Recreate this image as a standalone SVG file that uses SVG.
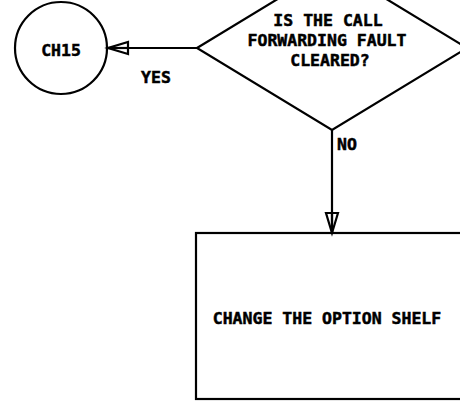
<svg xmlns="http://www.w3.org/2000/svg" width="460" height="401" viewBox="0 0 460 401">
<style>
.shape{fill:none;stroke:#000;stroke-width:2.2}
.conn{fill:none;stroke:#000;stroke-width:2.2}
text{font-family:"DejaVu Sans Mono","Liberation Mono",monospace;font-weight:bold;font-size:16.5px;fill:#000;stroke:#000;stroke-width:0.5}
.mid{text-anchor:middle}
</style>
<defs>
<marker id="arr" markerUnits="userSpaceOnUse" viewBox="0 0 20 12" markerWidth="20" markerHeight="12" refX="20" refY="6" orient="auto" overflow="visible">
<path d="M0,0 L20,6 L0,12 Z" fill="#fff" fill-opacity="0" stroke="#000" stroke-width="2.2"/>
<path d="M0,6 L20,6" stroke="#000" stroke-width="2.2"/>
</marker>
</defs>
<rect width="460" height="401" fill="#fff"/>
<g id="connectors">
<line class="conn" x1="197" y1="48" x2="108" y2="48" marker-end="url(#arr)"/>
<text x="156" y="83" class="mid">YES</text>
<line class="conn" x1="332" y1="130" x2="332" y2="233" marker-end="url(#arr)"/>
<text x="337" y="150">NO</text>
</g>
<g id="ch15">
<circle class="shape" cx="61" cy="48" r="46"/>
<text x="61" y="56" class="mid">CH15</text>
</g>
<g id="decision">
<polygon class="shape" points="197,48 332,-34 467,48 332,130"/>
<text x="328" y="26" class="mid">IS THE CALL</text>
<text x="327" y="46" class="mid">FORWARDING FAULT</text>
<text x="330" y="66" class="mid">CLEARED?</text>
</g>
<g id="change">
<rect class="shape" x="196" y="233" width="272" height="166"/>
<text x="327" y="324" class="mid">CHANGE THE OPTION SHELF</text>
</g>
</svg>
